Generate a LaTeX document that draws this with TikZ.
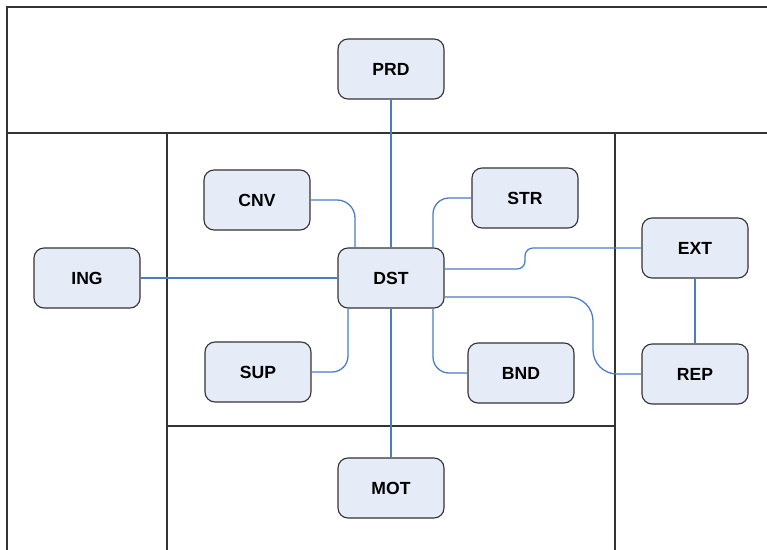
\documentclass[tikz,border=0pt]{standalone}
\usepackage{fontspec}
\setmainfont{Liberation Sans}
\definecolor{boxFill}{HTML}{E5ECF7}
\definecolor{linkBlue}{HTML}{4A7BC8}
\definecolor{frameGray}{HTML}{333333}
\begin{document}
\begin{tikzpicture}[x=0.025cm, y=-0.025cm,
    nodeStyle/.style={rectangle, rounded corners=0.25cm, draw=frameGray, line width=0.8pt, fill=boxFill,
        minimum width=2.65cm, minimum height=1.5cm, font=\fontsize{12.5}{14}\selectfont\bfseries},
    linkStyle/.style={linkBlue, line width=0.9pt},
    frameStyle/.style={frameGray, line width=1.3pt}]
                    \useasboundingbox (0,0) rectangle (767,550);

                    % frame
                    \draw[frameStyle] (7,550) -- (7,7) -- (767,7);
                    \draw[frameStyle] (7,133) -- (767,133);
                    \draw[frameStyle] (167,133) -- (167,550);
                    \draw[frameStyle] (615,133) -- (615,550);
                    \draw[frameStyle] (167,426) -- (615,426);

                    \node[nodeStyle](prd) at (391, 69) {PRD};
                    \node[nodeStyle](cnv) at (257, 200) {CNV};
                    \node[nodeStyle](str) at (525, 198) {STR};
                    \node[nodeStyle](ing) at ( 87, 278) {ING};
                    \node[nodeStyle](dst) at (391, 278) {DST};
                    \node[nodeStyle](ext) at (695, 248) {EXT};
                    \node[nodeStyle](sup) at (258, 372) {SUP};
                    \node[nodeStyle](bnd) at (521, 373) {BND};
                    \node[nodeStyle](rep) at (695, 374) {REP};
                    \node[nodeStyle](mot) at (391, 488) {MOT};

                    \coordinate (jogE) at (525, 0);
                    \coordinate (bendR) at (593, 0);

                    \draw[linkStyle] (prd) -- (dst);
                    \draw[linkStyle] (mot) -- (dst);
                    \draw[linkStyle] (ing) -- (dst);
                    \draw[linkStyle] (ext) -- (rep);
                    \draw[linkStyle, rounded corners=0.45cm] (cnv.east) -| ([xshift=-0.9cm]dst.north);
                    \draw[linkStyle, rounded corners=0.4cm] (str.west) -| ([xshift=1.05cm]dst.north);
                    \draw[linkStyle, rounded corners=0.4cm] (sup.east) -| ([xshift=-1.075cm]dst.south);
                    \draw[linkStyle, rounded corners=0.4cm] (bnd.west) -| ([xshift=1.05cm]dst.south);
                    \draw[linkStyle, rounded corners=0.2cm] ([yshift=0.225cm]dst.east) -| (jogE |- ext.west) -- (ext.west);
                    \draw[linkStyle, rounded corners=0.6cm] ([yshift=-0.475cm]dst.east) -| (bendR |- rep.west) -- (rep.west);
                \end{tikzpicture}
\end{document}
